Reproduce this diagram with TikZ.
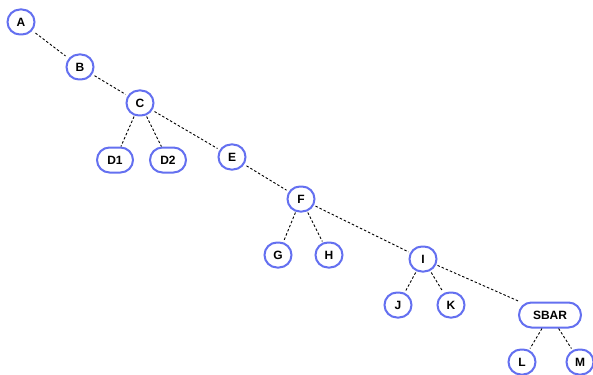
\documentclass[tikz,border=0pt]{standalone}
\usepackage{fontspec}
\setmainfont{Liberation Sans}
\definecolor{nodeblue}{RGB}{100,112,240}
\begin{document}
\begin{tikzpicture}[x=1pt,y=-1pt,
  tn/.style={draw=nodeblue, line width=2pt, fill=white, rounded corners=12.5pt,
    minimum height=25pt, minimum width=27pt, inner sep=0pt, font=\bfseries\fontsize{12}{14}\selectfont},
  wide/.style={minimum width=36pt},
  edge/.style={draw=black, line width=0.9pt, dash pattern=on 2.5pt off 2pt}]
\useasboundingbox (0,0) rectangle (593,374);
\clip (0,0) rectangle (593,374);
\node[tn] (A) at (21,22) {A};
\node[tn] (B) at (80,67) {B};
\node[tn] (C) at (140,103) {C};
\node[tn,wide] (D1) at (115,160) {D1};
\node[tn,wide] (D2) at (168,160) {D2};
\node[tn] (E) at (232,157) {E};
\node[tn] (F) at (301,199) {F};
\node[tn] (G) at (278,255) {G};
\node[tn] (H) at (329,255) {H};
\node[tn] (I) at (423,259) {I};
\node[tn] (J) at (398,305) {J};
\node[tn] (K) at (451,305) {K};
\node[tn,minimum width=62pt] (SBAR) at (550,315) {SBAR};
\node[tn] (L) at (522,362) {L};
\node[tn] (M) at (580,362) {M};
\draw[edge] (A) -- (B);
\draw[edge] (B) -- (C);
\draw[edge] (C) -- (D1);
\draw[edge] (C) -- (D2);
\draw[edge] (C) -- (E);
\draw[edge] (E) -- (F);
\draw[edge] (F) -- (G);
\draw[edge] (F) -- (H);
\draw[edge] (F) -- (I);
\draw[edge] (I) -- (J);
\draw[edge] (I) -- (K);
\draw[edge] (I) -- (SBAR);
\draw[edge] (SBAR) -- (L);
\draw[edge] (SBAR) -- (M);
\end{tikzpicture}
\end{document}
